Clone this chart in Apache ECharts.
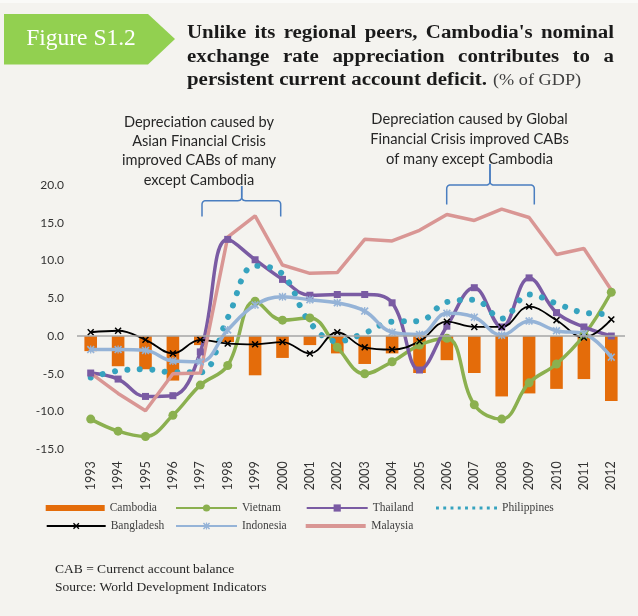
<!DOCTYPE html>
<html>
<head>
<meta charset="utf-8">
<script src="https://cdn.jsdelivr.net/npm/echarts@6/dist/echarts.min.js"></script>
<style>
html,body{margin:0;padding:0;background:#F4F3EF;}
#chart{width:638px;height:616px;}
</style>
</head>
<body>
<div id="chart"></div>
<script>
// ---- data (% of GDP) ----
var years = ['1993','1994','1995','1996','1997','1998','1999','2000','2001','2002',
             '2003','2004','2005','2006','2007','2008','2009','2010','2011','2012'];
var cambodia    = [-2.0,-4.0,-4.4,-5.9,-1.2,-0.8,-5.2,-2.9,-1.2,-2.3,-3.7,-2.3,-4.9,-3.2,-4.9,-8.0,-7.6,-7.0,-5.7,-8.6];
var vietnam     = [-11.0,-12.6,-13.3,-10.5,-6.5,-3.9,4.6,2.1,2.4,-1.5,-5.0,-3.4,-1.2,-0.3,-9.1,-11.0,-6.2,-3.7,0.1,5.8];
var thailand    = [-4.9,-5.7,-8.0,-7.9,-2.1,12.8,10.1,7.5,5.4,5.5,5.5,4.4,-4.5,1.3,6.4,1.2,7.7,3.1,1.2,0.0];
var philippines = [-5.5,-4.6,-4.4,-4.8,-4.8,2.4,9.3,8.2,1.8,-0.7,0.4,1.9,2.0,4.5,4.8,2.3,5.5,4.3,3.1,2.9];
var bangladesh  = [0.5,0.7,-0.5,-2.3,-0.5,-1.0,-1.1,-0.8,-2.3,0.5,-1.5,-1.8,-0.7,1.9,1.2,1.2,3.9,2.1,-0.2,2.2];
var indonesia   = [-1.8,-1.8,-1.9,-3.3,-3.4,0.8,4.1,5.2,4.8,4.4,3.3,0.5,0.2,3.0,2.5,0.1,2.0,0.7,0.3,-2.8];
var malaysia    = [-4.9,-7.6,-9.9,-5.0,-4.9,13.1,15.9,9.4,8.3,8.4,12.8,12.6,14.0,16.1,15.3,16.8,15.7,10.8,11.6,6.1];
var yTicks = {min:-15, max:20, interval:5};

var titleLines = ["Unlike its regional peers, Cambodia's nominal",
                  "exchange rate appreciation contributes to a",
                  "persistent current account deficit."];
var titleNote = "(% of GDP)";
var noteAsian = "Depreciation caused by\nAsian Financial Crisis\nimproved CABs of many\nexcept Cambodia";
var noteGlobal = "Depreciation caused by Global\nFinancial Crisis improved CABs\nof many except Cambodia";

// ---- helpers ----
var SERIF = '"Liberation Serif","DejaVu Serif",serif';
var SANS = 'Lato,"Open Sans",sans-serif';
var measureCtx = document.createElement('canvas').getContext('2d');
function measure(t, font){ measureCtx.font = font; return measureCtx.measureText(t).width; }

var graphics = [];
graphics.push({type:'rect', shape:{x:0,y:0,width:638,height:3}, style:{fill:'#FAFAF8'}, silent:true});
// header tag
graphics.push({type:'polygon', shape:{points:[[4,14],[148,14],[175,39],[148,64.5],[4,64.5]]}, style:{fill:'#92D050'}});
graphics.push({type:'text', x:81, y:39, style:{text:'Figure S1.2', font:'23.5px '+SERIF, fill:'#ffffff', align:'center', verticalAlign:'middle'}});

// justified title lines
var tFont = 'bold 18px ' + SERIF, tScale = 1.16;
function justified(text, y, x0, x1){
  var words = text.split(' ');
  var ws = words.map(function(w){return measure(w, tFont) * tScale;});
  var sum = ws.reduce(function(a,b){return a+b;},0);
  var gap = (x1 - x0 - sum) / (words.length - 1);
  var x = x0;
  words.forEach(function(w,i){
    graphics.push({type:'text', x:x, y:y, scaleX:tScale, style:{text:w, font:tFont, fill:'#1a1a1a', align:'left', verticalAlign:'middle'}});
    x += ws[i] + gap;
  });
}
justified(titleLines[0], 33.5, 187, 614);
justified(titleLines[1], 57, 187, 614);
graphics.push({type:'text', x:187, y:80.5, scaleX:tScale, style:{text:titleLines[2], font:tFont, fill:'#1a1a1a', align:'left', verticalAlign:'middle'}});
var l3w = measure(titleLines[2], tFont) * tScale;
graphics.push({type:'text', x:187 + l3w + 6, y:81, scaleX:1.14, style:{text:titleNote, font:'16px '+SERIF, fill:'#404040', align:'left', verticalAlign:'middle'}});

// annotations
graphics.push({type:'text', x:199, y:112.5, style:{text:noteAsian, font:'14.6px '+SANS, fill:'#262626', align:'center', verticalAlign:'top', lineHeight:19.3}});
graphics.push({type:'text', x:469.5, y:109.5, style:{text:noteGlobal, font:'14.7px '+SANS, fill:'#262626', align:'center', verticalAlign:'top', lineHeight:19.8}});

// braces (drawn as polylines with rounded corners)
function quad(p0, c, p1, pts){
  for (var i = 1; i <= 6; i++){
    var t = i/6, u = 1-t;
    pts.push([u*u*p0[0] + 2*u*t*c[0] + t*t*p1[0], u*u*p0[1] + 2*u*t*c[1] + t*t*p1[1]]);
  }
}
function brace(xl, xm, xr, yh, yEnd, yTip){
  var r = 4, pts = [[xl, yEnd], [xl, yh + r]];
  quad([xl, yh + r], [xl, yh], [xl + r, yh], pts);
  pts.push([xm - r, yh]);
  quad([xm - r, yh], [xm, yh], [xm, yh - r], pts);
  pts.push([xm, yTip]);
  var pts2 = [[xm, yTip], [xm, yh - r]];
  quad([xm, yh - r], [xm, yh], [xm + r, yh], pts2);
  pts2.push([xr - r, yh]);
  quad([xr - r, yh], [xr, yh], [xr, yh + r], pts2);
  pts2.push([xr, yEnd]);
  var st = {stroke:'#4A7EC0', lineWidth:1.5, fill:null};
  graphics.push({type:'polyline', shape:{points:pts}, style:st, silent:true});
  graphics.push({type:'polyline', shape:{points:pts2}, style:st, silent:true});
}
brace(202, 241.7, 280.7, 200.7, 216.5, 186);
brace(446.7, 490, 534.3, 185, 204.5, 164);

// footnotes
graphics.push({type:'text', x:55, y:569, style:{text:'CAB = Currenct account balance', font:'13.5px '+SERIF, fill:'#262626', align:'left', verticalAlign:'middle'}});
graphics.push({type:'text', x:55, y:587.5, style:{text:'Source: World Development Indicators', font:'13.5px '+SERIF, fill:'#262626', align:'left', verticalAlign:'middle'}});

var xPath = 'path://M0,1.5 L1.5,0 L5,3.5 L8.5,0 L10,1.5 L6.5,5 L10,8.5 L8.5,10 L5,6.5 L1.5,10 L0,8.5 L3.5,5 Z';
var starPath = 'path://M0,1.5 L1.5,0 L5,3.5 L8.5,0 L10,1.5 L6.5,5 L10,8.5 L8.5,10 L5,6.5 L1.5,10 L0,8.5 L3.5,5 Z M4.2,0 L5.8,0 L5.8,10 L4.2,10 Z';
var barIcon = 'path://M0,0 L60,0 L60,4 L0,4 Z';
var dotIcon = (function(){
  var p = 'path://';
  for (var i = 0; i < 9; i++){ var x = i*7.5; p += 'M'+x+',0 L'+(x+3)+',0 L'+(x+3)+',3 L'+x+',3 Z '; }
  return p;
})();

function lineSeries(name, data, color, width, symbol, symbolSize, smooth, extra){
  var s = {
    name:name, type:'line', data:data, smooth:smooth,
    symbol:symbol, symbolSize:symbolSize, showSymbol: symbol !== 'none',
    lineStyle:{color:color, width:width}, itemStyle:{color:color},
    emphasis:{disabled:true}, animation:false, z:3
  };
  if (extra) { for (var k in extra) s[k] = extra[k]; }
  return s;
}

var legendText = {fontFamily:SERIF, fontSize:11.5, color:'#404040'};
function legend(name, left, top, w, h, extra){
  var l = {data:[name], left:left, top:top, itemWidth:w, itemHeight:h, itemGap:0, textStyle:legendText, selectedMode:false, padding:0};
  if (extra) for (var k in extra) l[k] = extra[k];
  return l;
}
var r1 = 502, r2 = 520;

var option = {
  backgroundColor:'#F4F3EF',
  animation:false,
  grid:{left:77, right:13, top:185, height:264.3, containLabel:false},
  xAxis:{
    type:'category', data:years, boundaryGap:true,
    axisLine:{show:false}, axisTick:{show:false},
    axisLabel:{rotate:90, margin:12, fontFamily:SANS, fontSize:12.5, color:'#333', interval:0}
  },
  yAxis:{
    type:'value', min:yTicks.min, max:yTicks.max, interval:yTicks.interval,
    axisLine:{show:false}, axisTick:{show:false}, splitLine:{show:false},
    axisLabel:{margin:13, fontFamily:SANS, fontSize:12, color:'#333', formatter:function(v){return v.toFixed(1);}}
  },
  legend:[
    legend('Cambodia', 45.7, r1, 59, 6, {icon:'rect'}),
    legend('Vietnam', 175, r1, 61, 9),
    legend('Thailand', 305.7, r1, 61, 9),
    legend('Philippines', 436, r1, 61, 3, {icon:dotIcon}),
    legend('Bangladesh', 45.7, r2, 59, 8),
    legend('Indonesia', 175, r2, 61, 9),
    legend('Malaysia', 305.7, r2, 61, 4, {icon:barIcon})
  ],
  graphic:graphics,
  series:[
    {name:'Cambodia', type:'bar', data:cambodia, barWidth:'46%', itemStyle:{color:'#E46C0A'}, z:2,
     emphasis:{disabled:true},
     markLine:{silent:true, symbol:'none', label:{show:false}, lineStyle:{color:'#A6A6A6', type:'solid', width:1.5},
               data:[{yAxis:0}], animation:false}},
    lineSeries('Vietnam', vietnam, '#8BB04F', 3.5, 'circle', 9, 0.4),
    lineSeries('Thailand', thailand, '#7A5BA3', 3.5, 'rect', 7, 0.4),
    lineSeries('Philippines', philippines, '#36A3BF', 6, 'none', 0, 0.4,
      {lineStyle:{color:'#36A3BF', width:6, type:[0.01, 12.5], cap:'round'}}),
    lineSeries('Bangladesh', bangladesh, '#000000', 1.8, xPath, 7, 0.4),
    lineSeries('Indonesia', indonesia, '#95B3D7', 3.5, starPath, 8, 0.4),
    lineSeries('Malaysia', malaysia, '#D99694', 3.5, 'none', 0, false)
  ]
};

var chart = echarts.init(document.getElementById('chart'), null, {renderer:'canvas'});
chart.setOption(option);
</script>
</body>
</html>
